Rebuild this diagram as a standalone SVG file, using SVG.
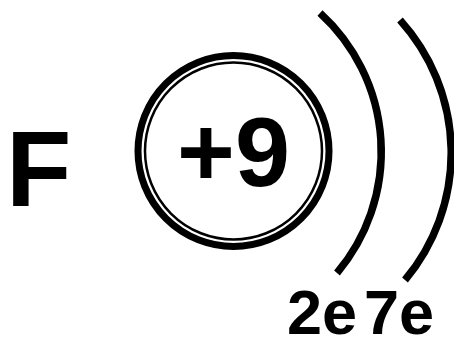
<svg xmlns="http://www.w3.org/2000/svg" width="454" height="339" viewBox="0 0 454 339">
<style>
.t{font-family:"Liberation Sans",Arial,sans-serif;font-weight:bold;fill:#000}
.arc{fill:none;stroke:#000;stroke-width:7.5}
</style>
<rect width="454" height="339" fill="#fff"/>
<g id="element">
<text class="t" x="6" y="206" font-size="107">F</text>
</g>
<g id="nucleus">
<circle cx="233.5" cy="151" r="95.5" fill="none" stroke="#000" stroke-width="7"/>
<circle cx="233.5" cy="151" r="88.5" fill="none" stroke="#000" stroke-width="2.5"/>
<text class="t" x="233.5" y="186" font-size="99" text-anchor="middle">+9</text>
</g>
<g id="shells">
<path class="arc" d="M 320 13 A 188 188 0 0 1 337 273"/>
<path class="arc" d="M 400 20 A 198 198 0 0 1 405 280"/>
</g>
<g id="labels">
<text class="t" x="287" y="334" font-size="63">2e</text>
<text class="t" x="364" y="334" font-size="63">7e</text>
</g>
</svg>
